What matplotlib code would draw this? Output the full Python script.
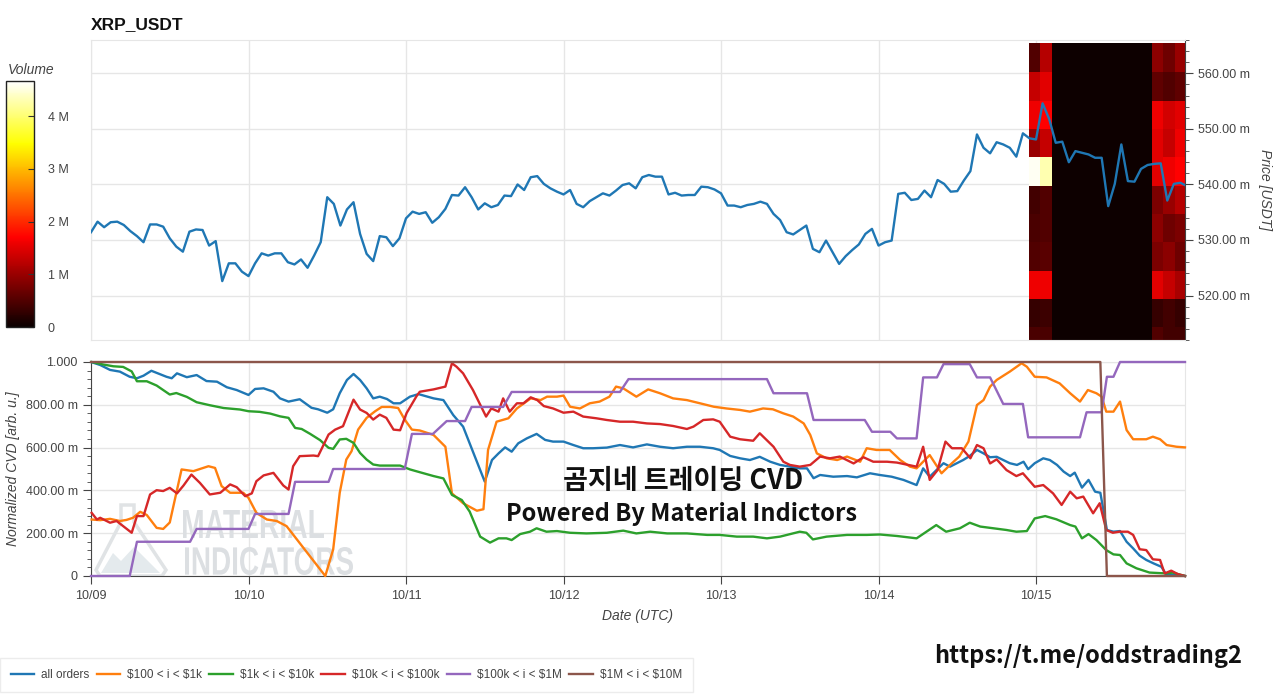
import numpy as np
import matplotlib
matplotlib.use("Agg")
import matplotlib.pyplot as plt
from matplotlib.ticker import FixedLocator, MultipleLocator, FuncFormatter
from matplotlib.patches import PathPatch, Polygon
from matplotlib.textpath import TextPath
from matplotlib.font_manager import FontProperties
from matplotlib.transforms import Affine2D, IdentityTransform

plt.rcParams['font.family'] = ['Liberation Sans', 'DejaVu Sans']

W, H = 1280, 697

# ---- data (hours since 10/09 00:00 UTC) ----
day_labels = ['10/09', '10/10', '10/11', '10/12', '10/13', '10/14', '10/15']

# hourly close, milli-USDT
price = [531.4, 533.3, 532.3, 533.2, 533.3, 532.7, 531.6, 530.7, 529.6, 532.8,
         532.8, 532.4, 530.3, 528.8, 527.9, 531.5, 531.9, 531.8, 529.0, 529.8,
         522.6, 525.8, 525.8, 524.3, 523.5, 525.8, 527.6, 527.2, 527.6, 527.6,
         526.0, 525.6, 526.5, 525.0, 527.2, 529.6, 537.7, 536.5, 532.6, 535.5,
         536.8, 531.1, 527.5, 526.2, 530.7, 530.5, 528.9, 530.3, 533.9, 535.1,
         534.7, 535.0, 533.1, 534.1, 535.6, 538.1, 538.0, 539.5, 537.7, 535.5,
         536.6, 535.9, 536.3, 538.0, 537.9, 540.0, 539.0, 541.3, 541.5, 540.1,
         539.3, 538.7, 538.2, 539.0, 536.5, 535.9, 537.0, 537.7, 538.4, 538.0,
         538.9, 539.9, 540.2, 539.3, 541.3, 541.7, 541.4, 541.4, 538.2, 538.5,
         538.0, 538.1, 538.1, 539.6, 539.5, 539.1, 538.4, 536.2, 536.2, 535.9,
         536.3, 536.5, 536.9, 536.5, 534.7, 533.6, 531.4, 531.0, 531.8, 532.6,
         528.4, 527.8, 529.9, 527.8, 525.7, 527.1, 528.2, 529.2, 531.1, 532.0,
         529.0, 529.6, 529.9, 538.3, 538.5, 537.2, 537.4, 538.9, 537.7, 540.8,
         540.1, 538.7, 538.8, 540.7, 542.4, 549.0, 546.6, 545.6, 547.6, 547.2,
         546.6, 545.0, 549.2, 548.3, 548.1, 554.6, 551.8, 547.5, 547.7, 544.0,
         546.0, 545.7, 545.4, 544.8, 544.8, 536.1, 540.1, 547.2, 540.6, 540.5,
         542.8, 543.5, 543.7, 543.8, 537.1, 540.1, 540.3, 539.7]

# volume profile heatmap (millions)
vol_time_edges = [143.0, 144.6, 146.4, 161.6, 163.4, 165.2, 166.7]
vol_price_edges = [509.2, 514.3, 519.4, 524.5, 529.6, 534.7, 539.8, 544.9,
                   550.0, 555.1, 560.3, 565.4]
vol = [  # rows bottom -> top
    [0.45, 0.45, 0.03, 0.5, 0.4, 0.4],
    [0.3, 0.35, 0.03, 0.3, 0.4, 0.3],
    [1.6, 1.6, 0.03, 1.5, 1.3, 1.1],
    [0.5, 0.55, 0.03, 0.8, 0.9, 0.7],
    [0.45, 0.5, 0.03, 0.9, 0.7, 0.8],
    [0.4, 0.5, 0.03, 0.8, 1.0, 1.2],
    [4.6, 4.3, 0.03, 1.5, 1.6, 1.7],
    [1.0, 1.3, 0.03, 1.5, 1.3, 1.6],
    [1.6, 1.7, 0.03, 1.6, 1.4, 1.5],
    [1.3, 1.5, 0.03, 0.6, 0.5, 0.6],
    [0.5, 1.2, 0.03, 0.9, 0.7, 1.0],
]

all_h = [0.1, 1.4, 2.9, 4.4, 5.9, 7.0, 8.0, 9.2, 11.5, 12.3, 13.1, 14.6, 16.1, 17.6, 19.2,
         20.7, 22.2, 24.0, 25.0, 26.3, 27.8, 28.8, 30.1, 31.8, 33.6, 34.6, 36.0, 36.9, 37.9,
         39.0, 40.0, 41.0, 42.0, 43.0, 44.0, 45.1, 46.1, 47.1, 48.6, 49.9, 52.2, 53.7, 55.2,
         56.7, 58.3, 60.0, 61.1, 62.1, 63.1, 64.1, 65.1, 66.4, 67.9, 69.2, 70.4, 72.0, 73.5,
         75.0, 76.5, 78.6, 80.6, 82.6, 84.7, 86.7, 88.7, 90.8, 92.8, 94.8, 95.8, 97.4, 98.9,
         100.4, 101.9, 103.5, 105.0, 106.5, 108.0, 109.1, 110.1, 111.1, 113.1, 115.2, 116.7,
         118.7, 120.2, 122.0, 123.8, 125.8, 126.8, 127.8, 129.9, 130.9, 132.9, 133.9, 135.0,
         136.0, 137.0, 138.0, 139.0, 140.0, 141.1, 142.1, 142.8, 143.8, 145.1, 146.1, 147.2,
         148.2, 149.2, 149.9, 151.0, 152.0, 153.0, 153.8, 154.8, 155.8, 156.8, 157.8, 158.8,
         159.8, 160.8, 161.9, 163.1, 163.8, 165.7, 166.7]
all_v = [0.999, 0.986, 0.963, 0.955, 0.931, 0.924, 0.936, 0.959, 0.931, 0.924, 0.947, 0.929,
         0.939, 0.911, 0.908, 0.882, 0.869, 0.846, 0.874, 0.877, 0.861, 0.830, 0.815, 0.826,
         0.786, 0.779, 0.763, 0.779, 0.854, 0.916, 0.944, 0.916, 0.877, 0.830, 0.838, 0.827,
         0.807, 0.807, 0.838, 0.850, 0.830, 0.822, 0.752, 0.698, 0.573, 0.441, 0.542, 0.573,
         0.601, 0.581, 0.620, 0.643, 0.664, 0.636, 0.628, 0.628, 0.612, 0.597, 0.597, 0.600,
         0.612, 0.601, 0.615, 0.604, 0.597, 0.604, 0.604, 0.597, 0.589, 0.561, 0.550, 0.542,
         0.557, 0.534, 0.519, 0.511, 0.503, 0.503, 0.457, 0.472, 0.464, 0.467, 0.461, 0.480,
         0.472, 0.464, 0.449, 0.425, 0.503, 0.464, 0.527, 0.511, 0.542, 0.561, 0.589, 0.573,
         0.555, 0.557, 0.542, 0.527, 0.519, 0.534, 0.499, 0.527, 0.550, 0.542, 0.519, 0.488,
         0.467, 0.483, 0.413, 0.449, 0.394, 0.389, 0.215, 0.207, 0.210, 0.160, 0.129, 0.095,
         0.075, 0.059, 0.043, 0.009, 0.005, 0.0]

s100_h = [0.1, 1.4, 2.9, 4.4, 5.4, 6.4, 7.5, 8.5, 10.0, 11.0, 12.0, 13.8, 15.6, 17.9, 18.9,
          19.9, 21.2, 23.2, 24.0, 25.2, 26.8, 28.3, 29.8, 35.7, 36.9, 37.9, 38.9, 39.7, 40.7,
          42.0, 43.3, 44.3, 45.6, 46.8, 47.8, 48.9, 50.1, 52.2, 54.0, 55.0, 56.7, 58.8, 59.8,
          60.5, 61.8, 63.6, 64.9, 67.0, 68.5, 69.5, 71.0, 72.0, 73.0, 74.5, 76.0, 77.5, 79.0,
          80.0, 81.1, 83.1, 84.9, 86.7, 88.7, 90.8, 92.8, 94.9, 96.8, 98.9, 100.4, 102.4,
          103.9, 105.5, 107.0, 108.6, 109.6, 110.6, 112.1, 113.7, 115.2, 117.2, 118.2, 119.7,
          121.7, 123.3, 124.8, 125.8, 127.8, 129.6, 130.9, 132.3, 133.7, 135.0, 136.0, 137.0,
          138.0, 140.0, 141.8, 142.6, 143.8, 145.6, 147.6, 149.2, 150.7, 151.9, 153.2, 154.0,
          154.7, 155.8, 156.8, 157.8, 158.8, 160.8, 161.8, 162.9, 163.9, 165.4, 166.7]
s100_v = [0.264, 0.261, 0.267, 0.257, 0.262, 0.272, 0.300, 0.285, 0.225, 0.220, 0.250, 0.498,
          0.490, 0.513, 0.505, 0.420, 0.389, 0.389, 0.365, 0.295, 0.264, 0.257, 0.233, 0.0,
          0.124, 0.389, 0.544, 0.583, 0.684, 0.739, 0.770, 0.790, 0.790, 0.785, 0.731, 0.684,
          0.680, 0.659, 0.604, 0.386, 0.340, 0.305, 0.312, 0.589, 0.721, 0.737, 0.783, 0.830,
          0.822, 0.838, 0.838, 0.843, 0.791, 0.783, 0.807, 0.815, 0.838, 0.885, 0.877, 0.838,
          0.872, 0.854, 0.830, 0.822, 0.807, 0.791, 0.783, 0.776, 0.768, 0.783, 0.779, 0.760,
          0.745, 0.713, 0.659, 0.573, 0.550, 0.542, 0.558, 0.534, 0.597, 0.589, 0.589, 0.542,
          0.511, 0.503, 0.565, 0.480, 0.519, 0.558, 0.628, 0.799, 0.822, 0.885, 0.916, 0.955,
          0.994, 0.978, 0.931, 0.928, 0.900, 0.854, 0.815, 0.869, 0.854, 0.838, 0.768, 0.768,
          0.815, 0.682, 0.639, 0.639, 0.651, 0.639, 0.612, 0.604, 0.601]

s1k_h = [0.1, 1.9, 3.4, 4.9, 6.2, 7.0, 8.5, 10.0, 12.0, 13.0, 14.6, 16.1, 18.1, 20.2, 22.7,
         24.0, 25.7, 27.3, 28.8, 30.1, 31.1, 32.1, 33.4, 34.9, 36.2, 36.9, 37.9, 38.9, 40.0,
         41.0, 42.0, 43.0, 44.0, 45.6, 47.1, 48.6, 50.1, 52.2, 53.7, 55.0, 56.5, 57.7, 59.3,
         60.8, 62.1, 63.3, 64.1, 65.4, 66.9, 67.9, 69.4, 71.0, 73.0, 75.5, 78.6, 81.1, 83.1,
         85.2, 87.8, 90.8, 93.9, 95.8, 98.4, 100.9, 103.0, 105.0, 108.0, 109.0, 110.0, 112.1,
         115.2, 118.2, 120.2, 122.8, 125.8, 127.3, 128.8, 130.3, 132.4, 133.9, 135.5, 137.5,
         139.5, 141.0, 142.6, 143.8, 145.4, 147.1, 149.2, 150.0, 151.0, 152.0, 153.2, 154.7,
         155.8, 156.8, 157.8, 159.3, 161.3, 163.8, 164.8, 166.7]
s1k_v = [1.0, 0.988, 0.980, 0.977, 0.956, 0.910, 0.910, 0.890, 0.848, 0.855, 0.837, 0.812,
         0.798, 0.785, 0.778, 0.770, 0.767, 0.759, 0.746, 0.739, 0.692, 0.687, 0.664, 0.635,
         0.599, 0.594, 0.638, 0.641, 0.622, 0.575, 0.544, 0.521, 0.516, 0.516, 0.516, 0.498,
         0.485, 0.467, 0.456, 0.379, 0.355, 0.301, 0.184, 0.156, 0.176, 0.176, 0.168, 0.196,
         0.207, 0.223, 0.207, 0.210, 0.202, 0.199, 0.202, 0.212, 0.199, 0.207, 0.199, 0.199,
         0.192, 0.192, 0.184, 0.184, 0.176, 0.184, 0.207, 0.202, 0.171, 0.184, 0.192, 0.192,
         0.194, 0.187, 0.176, 0.207, 0.238, 0.207, 0.223, 0.249, 0.231, 0.223, 0.215, 0.207,
         0.210, 0.269, 0.280, 0.265, 0.238, 0.231, 0.176, 0.196, 0.168, 0.121, 0.101, 0.098,
         0.059, 0.036, 0.016, 0.012, 0.016, 0.0]

s10k_h = [0.1, 0.9, 1.4, 2.9, 3.9, 5.2, 6.2, 7.0, 8.0, 9.0, 10.0, 11.0, 12.0, 13.1, 14.1,
          15.3, 16.6, 18.1, 19.7, 21.2, 22.2, 23.5, 24.5, 25.2, 26.3, 27.8, 29.3, 30.1, 30.8,
          31.8, 33.9, 34.6, 36.2, 37.2, 38.4, 40.0, 41.0, 42.0, 43.0, 44.0, 45.0, 46.1, 47.1,
          48.1, 49.6, 50.1, 52.2, 54.0, 55.0, 55.7, 56.7, 58.2, 60.2, 61.0, 62.1, 62.8, 63.8,
          64.9, 65.9, 67.0, 68.0, 69.0, 70.4, 72.0, 73.5, 75.0, 77.0, 78.6, 80.6, 82.6, 84.7,
          86.7, 88.7, 90.8, 91.8, 93.3, 94.8, 95.8, 97.4, 98.9, 100.9, 101.9, 104.0, 105.5,
          106.5, 108.0, 109.6, 111.1, 112.6, 114.1, 116.2, 117.7, 119.2, 121.3, 122.8, 124.5,
          125.8, 126.8, 127.8, 129.0, 130.2, 131.2, 132.7, 134.0, 135.0, 136.0, 137.0, 138.0,
          139.5, 141.0, 142.0, 143.8, 145.1, 146.6, 147.9, 149.2, 150.2, 151.2, 152.7, 153.7,
          154.7, 155.7, 156.7, 158.0, 158.8, 159.8, 160.8, 161.8, 162.9, 163.6, 164.6, 165.6,
          166.7]
s10k_v = [0.295, 0.264, 0.272, 0.249, 0.257, 0.226, 0.202, 0.280, 0.280, 0.381, 0.401, 0.397,
          0.412, 0.386, 0.423, 0.474, 0.435, 0.381, 0.389, 0.428, 0.415, 0.373, 0.386, 0.443,
          0.470, 0.482, 0.423, 0.404, 0.513, 0.560, 0.563, 0.560, 0.661, 0.684, 0.700, 0.824,
          0.778, 0.762, 0.731, 0.754, 0.739, 0.684, 0.681, 0.762, 0.840, 0.861, 0.872, 0.885,
          0.994, 0.978, 0.947, 0.869, 0.745, 0.783, 0.768, 0.830, 0.768, 0.807, 0.807, 0.835,
          0.822, 0.794, 0.783, 0.763, 0.768, 0.745, 0.737, 0.729, 0.721, 0.721, 0.713, 0.710,
          0.701, 0.687, 0.698, 0.729, 0.732, 0.721, 0.651, 0.639, 0.632, 0.667, 0.604, 0.534,
          0.519, 0.511, 0.519, 0.558, 0.550, 0.558, 0.526, 0.555, 0.534, 0.534, 0.530, 0.519,
          0.511, 0.604, 0.449, 0.495, 0.628, 0.597, 0.597, 0.550, 0.612, 0.597, 0.526, 0.545,
          0.495, 0.467, 0.480, 0.417, 0.425, 0.386, 0.332, 0.394, 0.363, 0.371, 0.293, 0.340,
          0.215, 0.202, 0.207, 0.207, 0.192, 0.125, 0.121, 0.078, 0.075, 0.012, 0.025, 0.009,
          0.0]

s100k_h = [0.0, 5.9, 7.0, 15.1, 16.1, 24.0, 25.0, 30.1, 31.1, 36.2, 36.9, 47.8, 48.9, 52.1,
           54.2, 57.0, 58.0, 62.8, 64.1, 80.6, 81.9, 103.0, 104.0, 109.1, 110.1, 117.9, 119.0,
           121.8, 122.8, 125.8, 126.8, 128.9, 129.9, 133.9, 135.0, 137.0, 139.0, 142.0, 142.8,
           150.7, 151.7, 154.0, 154.8, 155.8, 156.8, 166.7]
s100k_v = [0.0, 0.0, 0.16, 0.16, 0.22, 0.22, 0.29, 0.29, 0.44, 0.44, 0.50, 0.50, 0.664, 0.664,
           0.724, 0.724, 0.79, 0.79, 0.86, 0.86, 0.92, 0.92, 0.854, 0.854, 0.729, 0.729, 0.674,
           0.674, 0.643, 0.643, 0.928, 0.928, 0.99, 0.99, 0.928, 0.928, 0.804, 0.804, 0.648,
           0.648, 0.765, 0.765, 0.931, 0.931, 1.0, 1.0]

s1m_h = [0.0, 153.8, 154.8, 166.7]
s1m_v = [1.0, 1.0, 0.0, 0.0]

series = [
    ('all orders', all_h, all_v, '#1f77b4'),
    (r'\$100 < i < \$1k', s100_h, s100_v, '#ff7f0e'),
    (r'\$1k < i < \$10k', s1k_h, s1k_v, '#2ca02c'),
    (r'\$10k < i < \$100k', s10k_h, s10k_v, '#d62728'),
    (r'\$100k < i < \$1M', s100k_h, s100k_v, '#9467bd'),
    (r'\$1M < i < \$10M', s1m_h, s1m_v, '#8c564b'),
]

x_end = 166.7
grid_c = '#e6e6e6'
txt_c = '#444444'


def fx(px):
    return px / W


def fy(py):
    return 1 - py / H


fig = plt.figure(figsize=(W / 100, H / 100), dpi=100)
ax_top = fig.add_axes([fx(91), fy(340), fx(1094), 300 / H])
ax_bot = fig.add_axes([fx(91), fy(576), fx(1094), 214 / H])
cax = fig.add_axes([fx(6), fy(327), fx(28), 246 / H])

# ---- top: price + volume heatmap ----
mesh = ax_top.pcolormesh(vol_time_edges, vol_price_edges, np.array(vol),
                         cmap='hot', vmin=0, vmax=4.67, zorder=1)
ax_top.plot(np.arange(len(price)), price, color='#1f77b4', lw=1.7, zorder=3)
ax_top.set_xlim(0, x_end)
ax_top.set_ylim(512.0, 566.0)
ax_top.xaxis.set_major_locator(FixedLocator(np.arange(0, 145, 24)))
ax_top.tick_params(axis='x', length=0, labelbottom=False)
ax_top.yaxis.tick_right()
ax_top.yaxis.set_label_position('right')
ax_top.yaxis.set_major_locator(FixedLocator([520, 530, 540, 550, 560]))
ax_top.yaxis.set_minor_locator(MultipleLocator(2))
ax_top.yaxis.set_major_formatter(FuncFormatter(lambda v, p: f'{v:.2f} m'))
ax_top.tick_params(axis='y', which='major', length=6, color=txt_c, labelsize=9,
                   labelcolor=txt_c, pad=3)
ax_top.tick_params(axis='y', which='minor', length=3, color=txt_c)
ax_top.set_ylabel('Price [USDT]', rotation=270, labelpad=16, fontsize=10,
                  style='italic', color=txt_c)
ax_top.grid(True, color=grid_c, lw=1, zorder=0)
ax_top.set_axisbelow(True)
for side in ['left', 'top', 'bottom']:
    ax_top.spines[side].set_color(grid_c)
ax_top.spines['right'].set_color(txt_c)

fig.text(fx(91), fy(25), 'XRP_USDT', ha='left', va='center', fontsize=12.5,
         fontweight='bold', color='#111111')

# colorbar
cb = fig.colorbar(mesh, cax=cax)
cb.set_ticks([0, 1, 2, 3, 4])
cb.set_ticklabels(['0', '1 M', '2 M', '3 M', '4 M'])
cax.tick_params(direction='in', length=4, color='#333333', labelsize=9,
                labelcolor=txt_c, pad=10)
cb.outline.set_edgecolor('#222222')
cb.outline.set_linewidth(1)
fig.text(fx(31), fy(70), 'Volume', ha='center', va='center', fontsize=10,
         style='italic', color=txt_c)

# ---- bottom: normalized CVD ----
lines = []
for name, hh, vv, c in series:
    ln, = ax_bot.plot(hh, vv, color=c, lw=1.7, label=name, clip_on=False, zorder=3)
    lines.append(ln)

# Material Indicators watermark
def stamp(ax, text, box, color):
    x0, y0, x1, y1 = box
    tp = TextPath((0, 0), text, size=1,
                  prop=FontProperties(family='Liberation Sans', weight='bold'))
    ext = tp.get_extents()
    tr = (Affine2D().translate(-ext.x0, -ext.y0)
          .scale((x1 - x0) / ext.width, (y1 - y0) / ext.height)
          .translate(x0, H - y1))
    ax.add_patch(PathPatch(tr.transform_path(tp), transform=IdentityTransform(),
                           fc=color, ec='none', zorder=1))


stamp(ax_bot, 'MATERIAL', (183, 510, 324, 538), '#dcdfe2')
stamp(ax_bot, 'INDICATORS', (185, 547, 353, 575), '#dcdfe2')
flask = [(121, 505), (134, 505), (134, 522), (166, 570), (162, 576), (100, 576),
         (96, 570), (121, 522)]
ax_bot.add_patch(Polygon([(x, H - y) for x, y in flask], closed=True, fill=False,
                         ec='#e0e3e5', lw=2.5, transform=IdentityTransform(), zorder=1))
hills = [(101, 573), (113, 553), (121, 561), (134, 547), (160, 573)]
ax_bot.add_patch(Polygon([(x, H - y) for x, y in hills], closed=True, fc='#e4eaed',
                         ec='none', transform=IdentityTransform(), zorder=1))

ax_bot.set_xlim(0, x_end)
ax_bot.set_ylim(0, 1.0)
ax_bot.xaxis.set_major_locator(FixedLocator(np.arange(0, 145, 24)))
ax_bot.set_xticklabels(day_labels)
ax_bot.yaxis.set_major_locator(FixedLocator([0, 0.2, 0.4, 0.6, 0.8, 1.0]))
ax_bot.yaxis.set_minor_locator(MultipleLocator(0.04))


def cvd_fmt(v, p):
    if abs(v) < 1e-9:
        return '0'
    if abs(v - 1) < 1e-9:
        return '1.000'
    return f'{v * 1000:.2f} m'


ax_bot.yaxis.set_major_formatter(FuncFormatter(cvd_fmt))
ax_bot.tick_params(which='major', length=6, color=txt_c, labelsize=9, labelcolor=txt_c)
ax_bot.tick_params(axis='y', which='minor', length=3, color=txt_c)
ax_bot.tick_params(axis='x', pad=4)
ax_bot.set_ylabel('Normalized CVD [arb. u.]', fontsize=10, style='italic', color=txt_c,
                  labelpad=4)
ax_bot.set_xlabel('Date (UTC)', fontsize=10, style='italic', color=txt_c, labelpad=5)
ax_bot.grid(True, color=grid_c, lw=1, zorder=0)
ax_bot.set_axisbelow(True)
for side in ['left', 'bottom']:
    ax_bot.spines[side].set_color(txt_c)
for side in ['top', 'right']:
    ax_bot.spines[side].set_color(grid_c)

fig.legend(lines, [s[0] for s in series], loc='center left',
           bbox_to_anchor=(0.0, fy(675)), borderaxespad=0, ncol=6, fontsize=8.5,
           handlelength=2.0, handletextpad=0.6, columnspacing=0.6, frameon=True,
           fancybox=False, edgecolor='#e8e8e8', borderpad=0.9, labelcolor=txt_c)

kr = ['Noto Sans CJK KR', 'DejaVu Sans']
fig.text(fx(683), fy(481), '곰지네 트레이딩 CVD', family=kr, fontweight='bold',
         fontsize=19.5, ha='center', va='center', color='#111111')
fig.text(fx(681), fy(514), 'Powered By Material Indictors', family=kr, fontweight='bold',
         fontsize=17, ha='center', va='center', color='#111111')
fig.text(fx(1088), fy(656), 'https://t.me/oddstrading2', family=kr, fontweight='bold',
         fontsize=17, ha='center', va='center', color='#111111')

fig.savefig('out.png', dpi=100, facecolor='white')
